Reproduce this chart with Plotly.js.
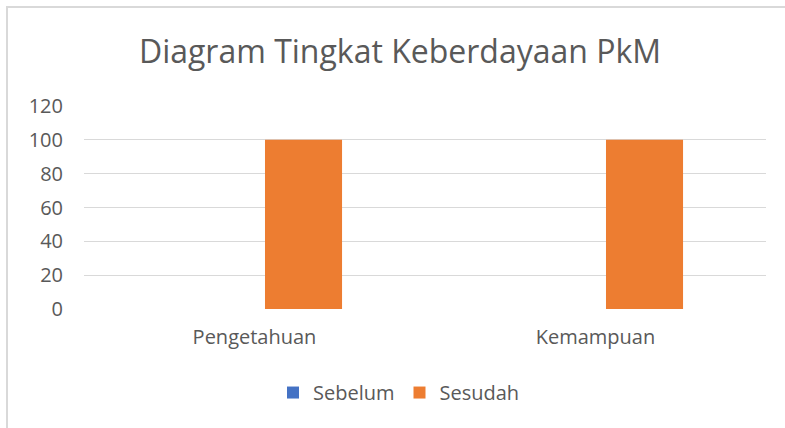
<!DOCTYPE html>
<html>
<head>
<meta charset="utf-8">
<script src="https://cdn.plot.ly/plotly-3.0.1.min.js"></script>
<style>
  html, body { margin: 0; padding: 0; background: #ffffff; }
  #wrap { position: relative; width: 785px; height: 428px; overflow: hidden; }
  #chart { position: absolute; left: 0; top: 0; width: 785px; height: 428px; }
  #frame { position: absolute; left: 6px; top: 6px; width: 800px; height: 440px;
           border-top: 2px solid #D9D9D9; border-left: 2px solid #D9D9D9;
           pointer-events: none; box-sizing: border-box; }
</style>
</head>
<body>
<div id="wrap">
  <div id="chart"></div>
  <div id="frame"></div>
</div>
<script>
const categories = ["Pengetahuan", "Kemampuan"];
const seriesNames = ["Sebelum", "Sesudah"];
const sebelumValues = [0, 0];
const sesudahValues = [100, 100];
const yTickValues = [0, 20, 40, 60, 80, 100, 120];
const titleText = "Diagram Tingkat Keberdayaan PkM";

const textColor = "#595959";
const fontFamily = "'Open Sans', 'Noto Sans', sans-serif";

const traces = [
  { type: "bar", name: seriesNames[0], x: categories, y: sebelumValues,
    marker: { color: "#4472C4" }, hoverinfo: "skip" },
  { type: "bar", name: seriesNames[1], x: categories, y: sesudahValues,
    marker: { color: "#ED7D31" }, hoverinfo: "skip" }
];

const layout = {
  width: 785, height: 428,
  paper_bgcolor: "rgba(0,0,0,0)",
  plot_bgcolor: "rgba(0,0,0,0)",
  margin: { l: 84, r: 19, t: 105.6, b: 119, pad: 0 },
  font: { family: fontFamily, color: textColor, size: 20 },
  title: {
    text: titleText,
    font: { family: fontFamily, size: 32, color: textColor },
    x: 400 / 785, xref: "container", xanchor: "center",
    y: 1 - 52 / 428, yref: "container", yanchor: "middle"
  },
  barmode: "group",
  bargap: 0.425,
  bargroupgap: 0.214,
  xaxis: {
    type: "category",
    showgrid: false, zeroline: false, showline: false,
    ticks: "", ticklabelstandoff: 14,
    tickfont: { family: fontFamily, size: 20, color: textColor }
  },
  yaxis: {
    range: [0, 120],
    tickvals: yTickValues,
    ticktext: yTickValues.map(String),
    showgrid: true, gridcolor: "#D9D9D9", gridwidth: 1.3,
    zeroline: false, showline: false,
    ticks: "", ticklabelstandoff: 20,
    tickfont: { family: fontFamily, size: 20, color: textColor }
  },
  showlegend: true,
  legend: {
    orientation: "h",
    x: (273 - 84) / 682, xanchor: "left",
    y: (309 - 392.7) / 203.4, yanchor: "middle",
    font: { family: fontFamily, size: 20, color: textColor },
    bgcolor: "rgba(0,0,0,0)",
    traceorder: "normal"
  }
};

Plotly.newPlot("chart", traces, layout, { staticPlot: true, displayModeBar: false });
</script>
</body>
</html>
